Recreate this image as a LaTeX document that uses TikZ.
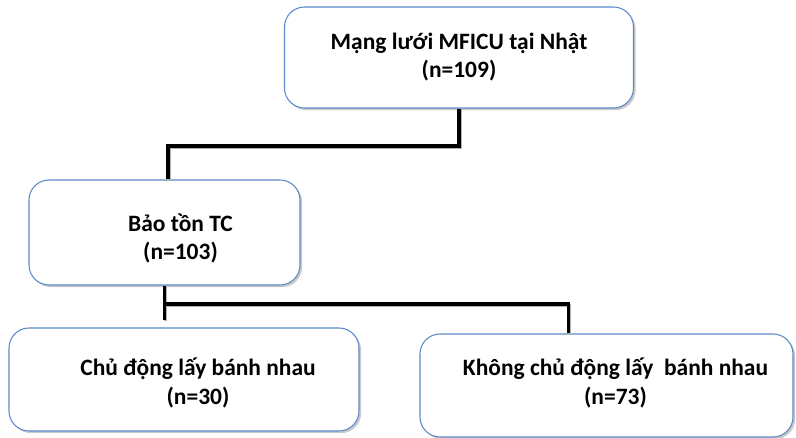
\documentclass[tikz,border=0pt]{standalone}
\usepackage{fontspec}
\setmainfont{Carlito}
\usepackage{xcolor}
\usetikzlibrary{positioning,calc,shadows}
\definecolor{boxblue}{RGB}{91,139,201}

\begin{document}
\begin{tikzpicture}[x=0.75pt, y=-0.75pt,
    box/.style={draw=boxblue, line width=0.8pt, fill=white, rounded corners=15pt,
      drop shadow={shadow xshift=1.6pt, shadow yshift=-1.6pt, opacity=0.35, fill=black!60}},
    txt/.style={align=center, font=\fontsize{17.6}{21.4}\selectfont\bfseries},
    link/.style={line width=2.3pt, black,
      preaction={draw=black!30, line width=2.3pt, transform canvas={xshift=1pt, yshift=-1pt}}}]
    \useasboundingbox (0,0) rectangle (796,438);
    \node[box, minimum width=261.75pt, minimum height=75.75pt,
      label={[txt, yshift=0.5pt]center:{Mạng lưới MFICU tại Nhật\\(n=109)}}] (mang) at (459,57.5) {};
    \node[box, minimum width=203.25pt, minimum height=78.75pt,
      label={[txt, xshift=12pt, yshift=-4.5pt]center:{Bảo tồn TC\\(n=103)}}] (baoton) at (164.5,232.5) {};
    \node[box, minimum width=262.5pt, minimum height=77.25pt,
      label={[txt, xshift=10.5pt, yshift=-2.5pt]center:{Chủ động lấy bánh nhau\\(n=30)}}] (chudong) at (184,379.5) {};
    \node[box, minimum width=279.75pt, minimum height=77.25pt,
      label={[txt, xshift=6.75pt, yshift=2pt]center:{Không chủ động lấy\ \ bánh nhau\\(n=73)}}] (khong) at (606.5,385.5) {};
    \coordinate (elbow) at (459,146);
    \coordinate (fork) at (164.5,304);
    \coordinate (stub) at (164.5,320);
    \draw[link] (mang.south) |- (elbow) -| ([xshift=2.6pt]baoton.north);
    \draw[link] (baoton.south) -- (stub);
    \draw[link] (fork) -| ([xshift=-28.5pt]khong.north);
\end{tikzpicture}
\end{document}
